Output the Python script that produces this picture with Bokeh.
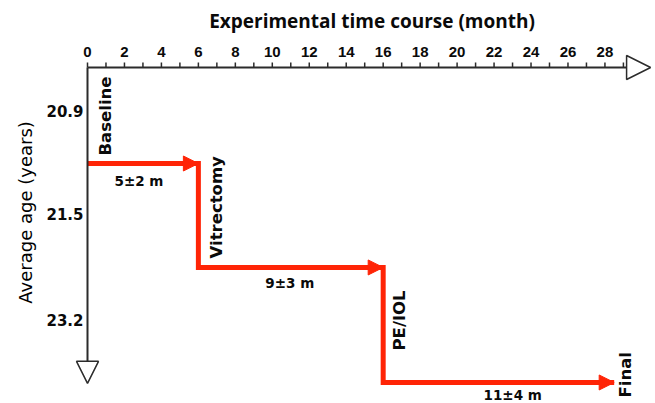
import numpy as np
from bokeh.plotting import figure
from bokeh.models import (Range1d, Arrow, NormalHead, LabelSet, ColumnDataSource)
from bokeh.core.properties import value
from bokeh.embed import file_html
from bokeh.resources import INLINE

# ---------------- data ----------------
event_names = ["Baseline", "Vitrectomy", "PE/IOL", "Final"]
event_months = [0, 6, 16, 28.5]
stage_levels = [1.0, 2.083, 3.281]          # vertical position of each interval
interval_labels = ["5±2 m", "9±3 m", "11±4 m"]
age_tick_pos = [0.45, 1.53, 2.63]
age_tick_labels = ["20.9", "21.5", "23.2"]
month_ticks = list(range(0, 29, 2))
month_tick_labels = [str(m) for m in month_ticks]
month_minor = list(range(0, 30))
x_axis_end = 30.47      # month at the tip of the time-axis arrow
y_axis_end = 3.29       # level at the tip of the age-axis arrow

x_title = "Experimental time course (month)"
y_title = "Average age (years)"

# ---------------- layout / style ----------------
W, H = 655, 403
ORIGIN_PX = (87, 67)          # where the two axes meet
PX_PER_MONTH = 18.48
PX_PER_LEVEL = 96.0
RED = "#ff2406"
AX = "#2b2b2b"
TXT = "#0a0a0a"
TICK_PX = 5

x_range = Range1d(-ORIGIN_PX[0] / PX_PER_MONTH, (W - ORIGIN_PX[0]) / PX_PER_MONTH)
y_range = Range1d((H - ORIGIN_PX[1]) / PX_PER_LEVEL, -ORIGIN_PX[1] / PX_PER_LEVEL)

p = figure(width=W, height=H, x_range=x_range, y_range=y_range,
           output_backend="svg", toolbar_location=None,
           min_border=0)
p.axis.visible = False
p.grid.visible = False
p.outline_line_color = None
p.background_fill_color = "white"
p.border_fill_color = "white"

# ---- time axis (top) ----
p.add_layout(Arrow(x_start=0, y_start=0, x_end=x_axis_end, y_end=0,
                   line_color=AX, line_width=2,
                   end=NormalHead(size=24, fill_color="white", line_color=AX, line_width=1.5)))
tick_len = TICK_PX / PX_PER_LEVEL
p.segment(x0=month_minor, y0=[0] * len(month_minor),
          x1=month_minor, y1=[-tick_len] * len(month_minor),
          line_color=AX, line_width=1.5)
xt_src = ColumnDataSource(dict(x=month_ticks, y=[0] * len(month_ticks), text=month_tick_labels))
p.add_layout(LabelSet(x="x", y="y", text="text", source=xt_src, y_offset=16,
                      text_align="center", text_baseline="middle",
                      text_font=value("Liberation Sans"), text_font_style="bold",
                      text_font_size="15px", text_color=TXT))
xtitle_src = ColumnDataSource(dict(x=[x_axis_end / 2], y=[0], text=[x_title]))
p.add_layout(LabelSet(x="x", y="y", text="text", source=xtitle_src,
                      x_offset=3, y_offset=47,
                      text_align="center", text_baseline="middle",
                      text_font=value("Open Sans"), text_font_style="bold",
                      text_font_size="19px", text_color=TXT))

# ---- age axis (left) ----
p.add_layout(Arrow(x_start=0, y_start=0, x_end=0, y_end=y_axis_end,
                   line_color=AX, line_width=2,
                   end=NormalHead(size=22, fill_color="white", line_color=AX, line_width=1.5)))
yt_src = ColumnDataSource(dict(x=[0] * len(age_tick_pos), y=age_tick_pos, text=age_tick_labels))
p.add_layout(LabelSet(x="x", y="y", text="text", source=yt_src, x_offset=-4,
                      text_align="right", text_baseline="middle",
                      text_font=value("DejaVu Sans"), text_font_style="bold",
                      text_font_size="15px", text_color=TXT))
ytitle_src = ColumnDataSource(dict(x=[0], y=[y_axis_end / 2], text=[y_title]))
p.add_layout(LabelSet(x="x", y="y", text="text", source=ytitle_src,
                      x_offset=-62, y_offset=13, angle=np.pi / 2,
                      text_align="center", text_baseline="middle",
                      text_font=value("DejaVu Sans"), text_font_style="normal",
                      text_font_size="18px", text_color="#000000"))

# ---- step path ----
xs, ys = [], []
for i, lvl in enumerate(stage_levels):
    xs += [event_months[i], event_months[i + 1]]
    ys += [lvl, lvl]
p.line(xs, ys, line_color=RED, line_width=5, line_join="miter", line_cap="butt")

for i, lvl in enumerate(stage_levels):
    p.add_layout(Arrow(x_start=event_months[i + 1] - 0.5, y_start=lvl,
                       x_end=event_months[i + 1], y_end=lvl, line_alpha=0,
                       end=NormalHead(size=15, fill_color=RED, line_color=RED, line_width=1)))

# ---- event labels (vertical) ----
event_dx = [18, 18, 16, 11]
event_dy = [8, 9, 32, -15]
lvl_for_event = [stage_levels[0]] + list(stage_levels[1:]) + [stage_levels[-1]]
ev_src = ColumnDataSource(dict(x=event_months, y=lvl_for_event, text=event_names,
                               dx=event_dx, dy=event_dy))
p.add_layout(LabelSet(x="x", y="y", text="text", source=ev_src,
                      x_offset="dx", y_offset="dy", angle=np.pi / 2,
                      text_align="left", text_baseline="middle",
                      text_font=value("DejaVu Sans"), text_font_style="bold",
                      text_font_size="16.5px", text_color=TXT))

# ---- interval labels ----
interval_dx = [-4, -1, 14]
interval_dy = [-17, -16, -13]
mid = [(event_months[i] + event_months[i + 1]) / 2 for i in range(len(stage_levels))]
iv_src = ColumnDataSource(dict(x=mid, y=stage_levels, text=interval_labels,
                               dx=interval_dx, dy=interval_dy))
p.add_layout(LabelSet(x="x", y="y", text="text", source=iv_src,
                      x_offset="dx", y_offset="dy",
                      text_align="center", text_baseline="middle",
                      text_font=value("DejaVu Sans"), text_font_style="bold",
                      text_font_size="13.5px", text_color=TXT))

open("out.html", "w").write(file_html(p, INLINE))
